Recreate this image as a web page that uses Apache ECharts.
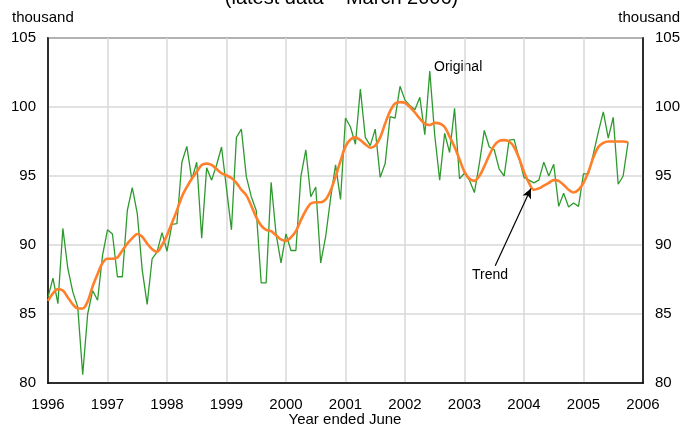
<!DOCTYPE html>
<html>
<head>
<meta charset="utf-8">
<script src="https://cdn.jsdelivr.net/npm/echarts@6/dist/echarts.min.js"></script>
<style>html,body{margin:0;padding:0;background:#fff}#c{width:683px;height:426px}</style>
</head>
<body>
<div id="c"></div>
<script>
// Monthly values, month 0 = June 1996 ... month 117 = March 2006
const startYear = 1996;
const yearTicks = [1996,1997,1998,1999,2000,2001,2002,2003,2004,2005,2006];
const original = [
86.2,87.6,85.75,91.2,88.3,86.6,85.5,80.6,85.0,86.7,86.0,89.25,
91.1,90.8,87.7,87.7,92.5,94.15,92.3,88.2,85.7,89.0,89.5,90.9,
89.55,91.5,91.55,96.0,97.15,94.75,96.0,90.5,95.6,94.7,95.8,97.1,
94.1,91.1,97.8,98.4,94.95,93.5,92.5,87.25,87.25,94.55,90.8,88.7,
90.8,89.6,89.6,94.95,96.9,93.5,94.2,88.7,90.6,93.4,95.8,93.3,
99.2,98.55,97.3,101.3,97.8,97.2,98.4,94.9,95.9,99.3,99.2,101.5,
100.5,100.1,99.8,100.7,98.0,102.6,97.95,94.7,98.1,96.7,99.9,94.8,
95.2,94.7,93.8,95.9,98.3,97.1,96.9,95.5,95.0,97.6,97.65,96.3,
94.9,94.7,94.5,94.7,96.0,95.0,95.85,92.8,93.75,92.75,93.05,92.8,
95.15,95.15,96.6,98.2,99.65,97.75,99.25,94.4,95.0,97.45
];
const trend = [
85.95,86.5,86.8,86.7,86.2,85.7,85.4,85.4,85.9,87.0,87.9,88.7,
89.0,89.0,89.1,89.6,90.1,90.5,90.8,90.6,90.1,89.7,89.5,90.0,
90.7,91.6,92.5,93.5,94.2,94.8,95.3,95.8,95.9,95.8,95.5,95.2,
95.05,94.85,94.5,94.0,93.6,92.85,92.0,91.4,91.1,91.0,90.7,90.4,
90.3,90.55,91.0,91.8,92.5,93.0,93.1,93.1,93.3,93.95,94.96,96.1,
97.15,97.65,97.8,97.6,97.3,97.05,97.2,97.8,98.8,99.7,100.25,100.35,
100.3,100.0,99.6,99.15,98.8,98.7,98.85,98.8,98.55,97.85,97.1,96.2,
95.3,94.8,94.65,95.0,95.7,96.5,97.2,97.55,97.6,97.5,97.1,96.3,
95.3,94.5,94.0,94.1,94.3,94.5,94.7,94.65,94.35,94.0,93.8,94.0,
94.5,95.3,96.35,97.1,97.4,97.5,97.5,97.5,97.5,97.45
];
// Arrow annotation endpoints in data space [month, value]
const arrowFrom = [90.2, 88.5];
const arrowTo = [97.4, 94.1];

const origData = original.map((v,i)=>[i,v]);
const trendData = trend.map((v,i)=>[i,v]);
const font = 'Liberation Sans, Arial, Helvetica, sans-serif';

const chart = echarts.init(document.getElementById('c'), null, {renderer:'canvas'});
const yCommon = {
  type:'value', min:80, max:105, interval:5,
  axisLine:{show:true, lineStyle:{color:'#000', width:1.5}},
  axisTick:{show:false},
  axisLabel:{color:'#000', fontSize:15, fontFamily:font, margin:12}
};
chart.setOption({
  animation:false,
  grid:{left:48, right:38, top:38, bottom:43, show:true, borderColor:'#000', borderWidth:1.5, backgroundColor:'transparent'},
  xAxis:{
    type:'value', min:0, max:120, interval:12,
    axisLine:{show:true, lineStyle:{color:'#000', width:1.5}},
    axisTick:{show:false},
    splitLine:{show:true, lineStyle:{color:'#d9d9d9', width:1.5}},
    axisLabel:{color:'#000', fontSize:15, fontFamily:font, margin:14,
      formatter:(v)=> String(yearTicks[Math.round(v/12)] ?? (startYear + v/12))}
  },
  yAxis:[
    Object.assign({}, yCommon, {position:'left', splitLine:{show:true, lineStyle:{color:'#d9d9d9', width:1.5}}}),
    Object.assign({}, yCommon, {position:'right', splitLine:{show:false}})
  ],
  series:[
    {name:'Original', type:'line', data:origData, symbol:'none', lineStyle:{color:'#2e9a2e', width:1.3}, z:3},
    {name:'Trend', type:'line', data:trendData, symbol:'none', smooth:0.3, lineStyle:{color:'#ff7f2a', width:2.6}, z:4,
      markLine:{silent:true, animation:false, symbol:['none','arrow'], symbolSize:[7,10],
        lineStyle:{color:'#000', width:1.2, type:'solid'}, label:{show:false},
        data:[[{coord:arrowFrom},{coord:arrowTo}]]}}
  ],
  graphic:[
    {type:'text', left:'center', style:{text:'(latest data \u2013 March 2006)', x:0, y:0, fontSize:20, fontFamily:font, fill:'#000'}, top:-12},
    {type:'text', x:12, y:18, style:{text:'thousand', fontSize:15, fontFamily:font, fill:'#000', textVerticalAlign:'middle'}},
    {type:'text', x:680, y:18, style:{text:'thousand', fontSize:15, fontFamily:font, fill:'#000', textAlign:'right', textVerticalAlign:'middle'}},
    {type:'text', x:345, y:420, style:{text:'Year ended June', fontSize:15, fontFamily:font, fill:'#000', textAlign:'center', textVerticalAlign:'middle'}},
    {type:'text', x:434, y:67, style:{text:'Original', fontSize:14, fontFamily:font, fill:'#000', textVerticalAlign:'middle'}},
    {type:'text', x:472, y:275, style:{text:'Trend', fontSize:14, fontFamily:font, fill:'#000', textVerticalAlign:'middle'}}
  ]
});
</script>
</body>
</html>
